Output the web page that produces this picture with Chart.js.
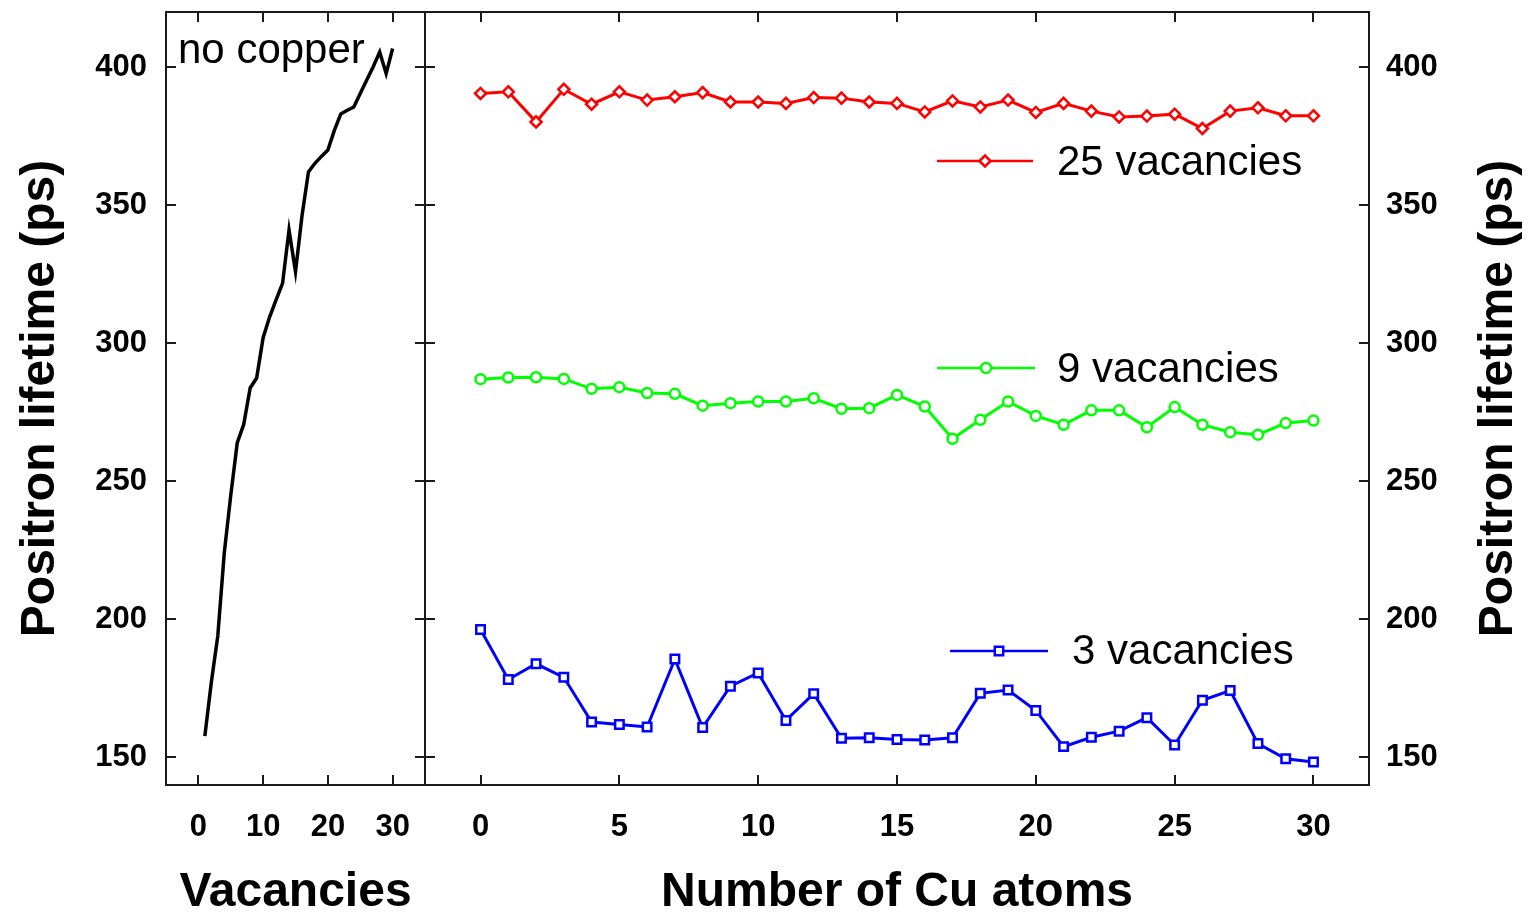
<!DOCTYPE html>
<html lang="en">
<head>
<meta charset="utf-8">
<title>Positron lifetime</title>
<script src="https://cdn.jsdelivr.net/npm/chart.js@4.4.1/dist/chart.umd.min.js"></script>
<style>
    html, body { margin: 0; padding: 0; background: #fff; }
    body { width: 1529px; height: 917px; position: relative; overflow: hidden; }
    canvas { position: absolute; top: 0; }
    #grafico-vagas { left: 0; }
    #grafico-cobre { left: 424px; }
</style>
</head>
<body>
<canvas id="grafico-vagas" width="427" height="917"></canvas>
<canvas id="grafico-cobre" width="1105" height="917"></canvas>
<script>
// Dados
const vagas = [1, 2, 3, 4, 5, 6, 7, 8, 9, 10, 11, 12, 13, 14, 15, 16, 17, 18, 19, 20, 21, 22, 23, 24, 25, 26, 27, 28, 29, 30];
const semCobre = [157.7, 177.2, 194.0, 224.1, 244.9, 263.9, 270.6, 283.8, 287.4, 302.0, 309.5, 315.7, 321.7, 341.0, 325.9,
                  346.1, 362.1, 365.2, 367.7, 370.0, 377.1, 383.1, 384.4, 385.6, 390.5, 395.4, 400.2, 405.5, 397.7, 406.8];

const atomosCu = [0, 1, 2, 3, 4, 5, 6, 7, 8, 9, 10, 11, 12, 13, 14, 15, 16, 17, 18, 19, 20, 21, 22, 23, 24, 25, 26, 27, 28, 29, 30];
const vagas25 = [390.5, 391.1, 380.2, 392.0, 386.6, 391.1, 388.1, 389.3, 390.8, 387.4, 387.4, 386.9, 389.0, 388.8, 387.4, 386.9,
                 383.8, 387.8, 385.6, 388.1, 383.6, 386.9, 384.1, 382.0, 382.3, 383.0, 377.8, 384.1, 385.3, 382.4, 382.4];
const vagas9 = [287.0, 287.6, 287.7, 287.1, 283.5, 284.1, 282.0, 281.7, 277.4, 278.3, 278.9, 278.9, 280.1, 276.3, 276.5, 281.3,
                277.1, 265.4, 272.3, 278.9, 273.7, 270.5, 275.7, 275.7, 269.6, 276.9, 270.5, 267.8, 266.9, 271.1, 272.0];
const vagas3 = [196.3, 178.2, 183.9, 179.0, 162.8, 161.9, 161.0, 185.6, 160.8, 175.8, 180.6, 163.4, 173.1, 156.9, 157.1, 156.5,
                156.3, 157.1, 173.2, 174.4, 167.0, 153.9, 157.3, 159.5, 164.4, 154.5, 170.7, 174.2, 155.0, 149.5, 148.3];

// Marcas dos eixos
const ticksY = [150, 200, 250, 300, 350, 400];
const ticksVagas = [0, 10, 20, 30];
const ticksCobre = [0, 5, 10, 15, 20, 25, 30];

const FONTE = "'Liberation Sans', Arial, Helvetica, sans-serif";
const TITULO_Y = 'Positron lifetime (ps)';

// Junta x e y em pontos para o Chart.js
function pontos(xs, ys) {
    return xs.map((x, i) => ({ x: x, y: ys[i] }));
}

// Força as marcas exatas do eixo
function fixarTicks(valores) {
    return scale => { scale.ticks = valores.map(v => ({ value: v })); };
}

// Tira o espaço extra que o Chart.js reserva para os rótulos das pontas
function zerarPadding(scale) {
    scale.paddingTop = 0;
    scale.paddingBottom = 0;
    scale.paddingLeft = 0;
    scale.paddingRight = 0;
}

// Moldura com marcas para dentro, nos quatro lados
function desenharMoldura(chart, ticksX) {
    const { ctx, chartArea: a, scales } = chart;
    ctx.save();
    ctx.strokeStyle = '#1a1a1a';
    ctx.lineWidth = 2;
    ctx.beginPath();
    for (const v of ticksX) {
        const px = Math.round(scales.x.getPixelForValue(v));
        ctx.moveTo(px, a.bottom); ctx.lineTo(px, a.bottom - 10);
        ctx.moveTo(px, a.top); ctx.lineTo(px, a.top + 10);
    }
    for (const v of ticksY) {
        const py = Math.round(scales.y.getPixelForValue(v));
        ctx.moveTo(a.left, py); ctx.lineTo(a.left + 10, py);
        ctx.moveTo(a.right, py); ctx.lineTo(a.right - 10, py);
    }
    ctx.stroke();
    ctx.strokeRect(a.left, a.top, a.right - a.left, a.bottom - a.top);
    ctx.restore();
}

function escalaX(min, max, marcas, titulo) {
    return {
        type: 'linear', min: min, max: max,
        afterBuildTicks: fixarTicks(marcas),
        afterFit: scale => { scale.height = 132; zerarPadding(scale); },
        grid: { display: false, drawTicks: false },
        border: { display: false },
        ticks: { padding: 24, color: '#000', autoSkip: false, maxRotation: 0, font: { family: FONTE, size: 31, weight: 'bold' } },
        title: { display: true, text: titulo, color: '#000', padding: { top: 0, bottom: 0 },
                 font: { family: FONTE, size: 48, weight: 'bold', lineHeight: 1 } }
    };
}

function escalaY(posicao, largura, padding, comTitulo) {
    return {
        type: 'linear', position: posicao, min: 140, max: 420,
        afterBuildTicks: fixarTicks(ticksY),
        afterFit: scale => { scale.width = largura; zerarPadding(scale); },
        grid: { display: false, drawTicks: false },
        border: { display: false },
        ticks: { padding: padding, color: '#000', font: { family: FONTE, size: 31, weight: 'bold' } },
        title: { display: comTitulo, text: TITULO_Y, color: '#000', padding: { top: 17, bottom: 0 },
                 font: { family: FONTE, size: 48, weight: 'bold', lineHeight: 1 } }
    };
}

// Painel da esquerda: sem cobre
new Chart(document.getElementById('grafico-vagas'), {
    type: 'line',
    data: {
        datasets: [{
            data: pontos(vagas, semCobre),
            borderColor: '#000', borderWidth: 3.5, pointRadius: 0, tension: 0
        }]
    },
    options: {
        responsive: false, animation: false, devicePixelRatio: 1,
        layout: { autoPadding: false, padding: { top: 12, right: 2, left: 0, bottom: 0 } },
        plugins: { legend: { display: false }, tooltip: { enabled: false } },
        scales: {
            x: escalaX(-5, 35, ticksVagas, 'Vacancies'),
            y: escalaY('left', 166, 19, true)
        }
    },
    plugins: [{
        id: 'molduraVagas',
        afterDraw(chart) {
            desenharMoldura(chart, ticksVagas);
            const ctx = chart.ctx;
            ctx.save();
            ctx.fillStyle = '#000';
            ctx.font = `42px ${FONTE}`;
            ctx.textBaseline = 'alphabetic';
            ctx.fillText('no copper', 178, 63);
            ctx.restore();
        }
    }]
});

// Legenda desenhada à mão, na posição do original
const legenda = [
    { texto: '25 vacancies', cor: '#ff0000', estilo: 'diamante', x0: 937, x1: 1033, y: 161, xTexto: 1057, base: 175 },
    { texto: '9 vacancies', cor: '#00ff00', estilo: 'circulo', x0: 937, x1: 1035, y: 368, xTexto: 1057, base: 382 },
    { texto: '3 vacancies', cor: '#0000ff', estilo: 'quadrado', x0: 950, x1: 1048, y: 651, xTexto: 1072, base: 664 }
];

function desenharMarcador(ctx, estilo, x, y) {
    ctx.beginPath();
    if (estilo === 'diamante') {
        ctx.moveTo(x - 5.5, y); ctx.lineTo(x, y - 5.5); ctx.lineTo(x + 5.5, y); ctx.lineTo(x, y + 5.5); ctx.closePath();
    } else if (estilo === 'circulo') {
        ctx.arc(x, y, 5, 0, Math.PI * 2);
    } else {
        ctx.rect(x - 4.2, y - 4.2, 8.4, 8.4);
    }
    ctx.fill();
    ctx.stroke();
}

function serie(valores, cor, estilo, raio) {
    return {
        data: pontos(atomosCu, valores),
        borderColor: cor, borderWidth: 3, tension: 0,
        pointStyle: estilo, pointRadius: raio, pointBorderWidth: 2.5,
        pointBorderColor: cor, pointBackgroundColor: '#fff'
    };
}

// Painel da direita: número de átomos de Cu
new Chart(document.getElementById('grafico-cobre'), {
    type: 'line',
    data: {
        datasets: [
            serie(vagas25, '#ff0000', 'rectRot', 5.5),
            serie(vagas9, '#00ff00', 'circle', 5),
            serie(vagas3, '#0000ff', 'rect', 6)
        ]
    },
    options: {
        responsive: false, animation: false, devicePixelRatio: 1,
        layout: { autoPadding: false, padding: { top: 12, right: 0, left: 1, bottom: 0 } },
        plugins: { legend: { display: false }, tooltip: { enabled: false } },
        scales: {
            x: escalaX(-2, 32, ticksCobre, 'Number of Cu atoms'),
            y: escalaY('right', 160, 17, false)
        }
    },
    plugins: [{
        id: 'molduraCobre',
        afterDraw(chart) {
            const { ctx, chartArea: a } = chart;
            desenharMoldura(chart, ticksCobre);
            ctx.save();
            ctx.translate(-424, 0); // coordenadas da página
            for (const item of legenda) {
                ctx.strokeStyle = item.cor;
                ctx.fillStyle = '#fff';
                ctx.lineWidth = 2.5;
                ctx.beginPath();
                ctx.moveTo(item.x0, item.y); ctx.lineTo(item.x1, item.y);
                ctx.stroke();
                desenharMarcador(ctx, item.estilo, (item.x0 + item.x1) / 2, item.y);
                ctx.fillStyle = '#000';
                ctx.font = `42px ${FONTE}`;
                ctx.textBaseline = 'alphabetic';
                ctx.fillText(item.texto, item.xTexto, item.base);
            }
            // Título do eixo direito, lido de baixo para cima como o da esquerda
            ctx.translate(1499, (a.top + a.bottom) / 2);
            ctx.rotate(-Math.PI / 2);
            ctx.font = `bold 48px ${FONTE}`;
            ctx.textAlign = 'center';
            ctx.textBaseline = 'middle';
            ctx.fillText(TITULO_Y, 0, 0);
            ctx.restore();
        }
    }]
});
</script>
</body>
</html>
